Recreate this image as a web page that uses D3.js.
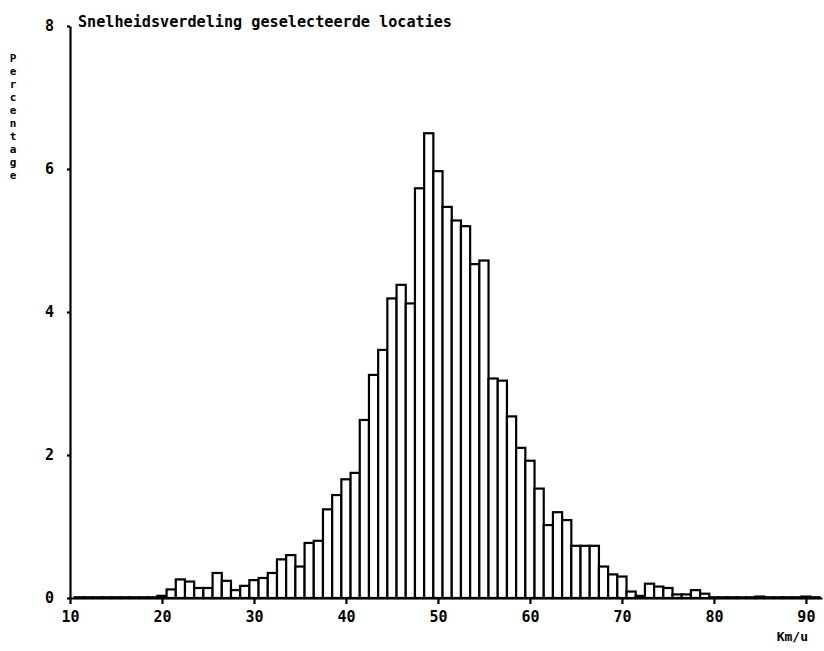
<!DOCTYPE html>
<html>
<head>
<meta charset="utf-8">
<script src="https://cdn.jsdelivr.net/npm/d3@7"></script>
<style>
  body { margin: 0; background: #fff; }
  text { font-family: "DejaVu Sans Mono", monospace; font-weight: bold; fill: #000; }
  .axis path, .axis line { stroke: #000; stroke-width: 2.2; }
  .axis text { font-size: 15px; }
</style>
</head>
<body>
<script>
// speed classes (km/u) and percentage per class
const speeds = d3.range(11, 92);
const percents = [
  0.01, 0.01, 0.01, 0.01, 0.01, 0.01, 0.01, 0.01, 0.01,   // 11-19
  0.03, 0.12, 0.26, 0.23, 0.14, 0.14, 0.35, 0.24, 0.11, 0.17, // 20-29
  0.25, 0.28, 0.35, 0.54, 0.60, 0.44, 0.77, 0.80, 1.24, 1.44, // 30-39
  1.66, 1.75, 2.49, 3.12, 3.47, 4.19, 4.38, 4.12, 5.73, 6.50, // 40-49
  5.97, 5.47, 5.28, 5.20, 4.67, 4.72, 3.07, 3.04, 2.54, 2.10, // 50-59
  1.92, 1.53, 1.02, 1.20, 1.09, 0.73, 0.73, 0.73, 0.44, 0.33, // 60-69
  0.30, 0.09, 0.03, 0.20, 0.16, 0.14, 0.05, 0.05, 0.11, 0.06, // 70-79
  0.01, 0.01, 0.01, 0.01, 0.01, 0.02, 0.01, 0.01, 0.01, 0.01, // 80-89
  0.02, 0.01                                                 // 90-91
];
const xTicks = [10, 20, 30, 40, 50, 60, 70, 80, 90];
const yTicks = [0, 2, 4, 6, 8];

const data = speeds.map((s, i) => ({speed: s, pct: percents[i]}));

const width = 824, height = 651;

const svg = d3.select('body').append('svg')
  .attr('width', width)
  .attr('height', height);

// x: km/u, y: percentage
const xScale = d3.scaleLinear().domain([10, 91.75]).range([70, 822]);
const yScale = d3.scaleLinear().domain([0, 8]).range([598, 26]);

// bars (white with black outline)
svg.append('g').selectAll('rect')
  .data(data)
  .enter()
  .append('rect')
  .attr('x', d => xScale(d.speed - 0.5))
  .attr('width', d => xScale(d.speed + 0.5) - xScale(d.speed - 0.5))
  .attr('y', d => yScale(d.pct))
  .attr('height', d => yScale(0) - yScale(d.pct))
  .attr('fill', '#fff')
  .attr('stroke', '#000')
  .attr('stroke-width', 2.2);

// axes
const xAxis = d3.axisBottom(xScale)
  .tickValues(xTicks)
  .tickSize(6)
  .tickSizeOuter(0)
  .tickFormat(d3.format('d'));

const yAxis = d3.axisLeft(yScale)
  .tickValues(yTicks)
  .tickSize(3)
  .tickSizeOuter(0)
  .tickFormat(d3.format('d'));

svg.append('g')
  .attr('class', 'axis x-axis')
  .attr('transform', `translate(0, ${yScale(0)})`)
  .call(xAxis)
  .call(g => g.selectAll('text').attr('dy', '0.9em').attr('y', 10));

svg.append('g')
  .attr('class', 'axis y-axis')
  .attr('transform', `translate(${xScale(10)}, 0)`)
  .call(yAxis)
  .call(g => g.selectAll('text').attr('x', -16));

// title
svg.append('text')
  .attr('x', 78)
  .attr('y', 27)
  .attr('font-size', 15)
  .attr('textLength', 374)
  .attr('lengthAdjust', 'spacingAndGlyphs')
  .text('Snelheidsverdeling geselecteerde locaties');

// vertical y label, one letter under the other
svg.append('g').selectAll('text')
  .data('Percentage'.split(''))
  .enter()
  .append('text')
  .attr('x', 13)
  .attr('y', (d, i) => 62 + i * 13)
  .attr('text-anchor', 'middle')
  .attr('font-size', 11)
  .text(d => d);

// x unit label
svg.append('text')
  .attr('x', 808)
  .attr('y', 641)
  .attr('text-anchor', 'end')
  .attr('font-size', 13)
  .text('Km/u');
</script>
</body>
</html>
